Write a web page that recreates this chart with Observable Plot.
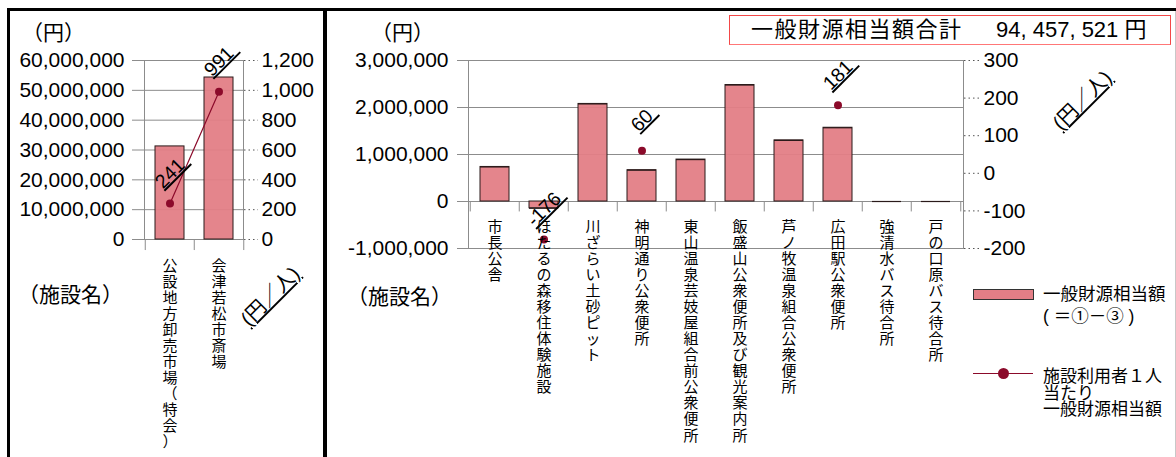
<!DOCTYPE html>
<html lang="ja">
<head>
<meta charset="utf-8">
<script src="https://cdn.jsdelivr.net/npm/d3@7"></script>
<script src="https://cdn.jsdelivr.net/npm/@observablehq/plot@0.6"></script>
<style>
  html, body { margin: 0; padding: 0; background: #fff; }
  #wrap { position: relative; width: 1176px; height: 457px; overflow: hidden; background: #fff;
          font-family: "Liberation Sans", Arial, "Noto Sans CJK JP", sans-serif; color: #000; }
  #wrap svg { position: absolute; top: 0; overflow: visible; }
  g[aria-description="datalabel"] text { text-decoration: underline; text-underline-offset: 3px; }
  .abs { position: absolute; white-space: nowrap; line-height: 1; }
  .rot { transform: translate(-50%, -50%) rotate(-45deg); text-decoration: underline; text-underline-offset: 2px; }
</style>
</head>
<body>
<div id="wrap"></div>
<script>
// ---------- data ----------
const leftCats = ["公設地方卸売市場（特会）", "会津若松市斎場"];
const leftAmounts = [31200000, 54300000];
const leftPerUser = [241, 991];
const leftTicks = [0, 10000000, 20000000, 30000000, 40000000, 50000000, 60000000];
const leftTicks2 = [0, 200, 400, 600, 800, 1000, 1200];

const rightCats = ["市長公舎", "ほたるの森移住体験施設", "川ざらい土砂ピット", "神明通り公衆便所",
  "東山温泉芸妓屋組合前公衆便所", "飯盛山公衆便所及び観光案内所", "芦ノ牧温泉組合公衆便所",
  "広田駅公衆便所", "強清水バス待合所", "戸の口原バス待合所"];
const rightAmounts = [735000, -144000, 2076000, 666000, 892000, 2478000, 1300000, 1569000, 0, 0];
const rightPerUser = [null, -176, null, 60, null, null, null, 181, null, null];
const rightTicks = [-1000000, 0, 1000000, 2000000, 3000000];
const rightTicks2 = [-200, -100, 0, 100, 200, 300];

const totalLabel = "一般財源相当額合計";
const totalValue = "94, 457, 521 円";
const legendBar = ["一般財源相当額", "( ＝①－③ )"];
const legendDot = ["施設利用者１人", "当たり", "一般財源相当額"];

// ---------- style ----------
const FONT = '"Liberation Sans", Arial, "Noto Sans CJK JP", sans-serif';
const BAR_FILL = "#e37e86";
const BAR_STROKE = "#2a1a1a";
const DOT = "#8b0a2a";
const GRID = "#8c8c8c";
const fmt = d => Math.round(d).toLocaleString("en-US");
const vert = s => Array.from(s).join("\n");

const wrap = document.getElementById("wrap");

// ---------- left panel ----------
const kL = 60000000 / 1200;
const leftData = leftCats.map((name, i) => ({name, amount: leftAmounts[i], perUser: leftPerUser[i]}));
const stepL = 99 / leftCats.length;
const leftPlot = Plot.plot({
  width: 325, height: 457,
  marginLeft: 144, marginRight: 82, marginTop: 60, marginBottom: 218,
  style: {fontFamily: FONT, fontSize: "21px", background: "transparent", overflow: "visible"},
  x: {domain: leftCats, paddingInner: 0.414, paddingOuter: 0.207, axis: null},
  y: {domain: [0, 60000000], label: null},
  marks: [
    Plot.ruleY(leftTicks, {stroke: GRID}),
    Plot.frame({stroke: GRID}),
    Plot.axisY(leftTicks, {anchor: "left", tickSize: 12, tickPadding: 8, stroke: GRID, fill: "#000",
      tickFormat: fmt, fontSize: 21, label: null}),
    Plot.axisY(leftTicks2.map(v => v * kL), {anchor: "right", tickSize: 14, tickPadding: 4, stroke: "#555",
      strokeDasharray: "1.5,3", fill: "#000", tickFormat: d => fmt(d / kL), fontSize: 21, label: null}),
    Plot.ruleX(leftCats, {x: d => d, y1: 0, y2: -3700000, dx: -stepL / 2, stroke: GRID}),
    Plot.ruleX(leftCats.slice(-1), {x: d => d, y1: 0, y2: -3700000, dx: stepL / 2, stroke: GRID}),
    Plot.barY(leftData, {x: "name", y: "amount", fill: BAR_FILL, fillOpacity: 0.95, stroke: BAR_STROKE, strokeWidth: 1}),
    Plot.line(leftData, {x: "name", y: d => d.perUser * kL, stroke: DOT, strokeWidth: 1.2}),
    Plot.dot(leftData, {x: "name", y: d => d.perUser * kL, r: 4, fill: DOT}),
    Plot.text(leftData, {x: "name", y: d => d.perUser * kL, text: d => String(d.perUser) + "\u00a0",
      rotate: -45, dy: -32, dx: 2, fontSize: 19.5, ariaDescription: "datalabel"}),
    Plot.text(leftCats, {x: d => d, y: d => 0, text: d => vert(d), lineAnchor: "top", dy: 20,
      fontSize: 15, lineHeight: 1.07})
  ]
});
leftPlot.style.left = "0px";
wrap.appendChild(leftPlot);

// ---------- right panel ----------
const toR = v => v * 8000 + 600000;
const fromR = d => (d - 600000) / 8000;
const rightData = rightCats.map((name, i) => ({name, amount: rightAmounts[i], perUser: rightPerUser[i]}));
const rightPts = rightData.filter(d => d.perUser !== null);
const stepR = 495 / rightCats.length;
const rightPlot = Plot.plot({
  width: 851, height: 457,
  marginLeft: 143, marginRight: 213, marginTop: 60, marginBottom: 209,
  style: {fontFamily: FONT, fontSize: "21px", background: "transparent", overflow: "visible"},
  x: {domain: rightCats, paddingInner: 0.40, paddingOuter: 0.20, axis: null},
  y: {domain: [-1000000, 3000000], label: null},
  marks: [
    Plot.ruleY(rightTicks, {stroke: GRID}),
    Plot.frame({stroke: GRID}),
    Plot.axisY(rightTicks, {anchor: "left", tickSize: 11, tickPadding: 9, stroke: GRID, fill: "#000",
      tickFormat: fmt, fontSize: 21, label: null}),
    Plot.axisY(rightTicks2.map(toR), {anchor: "right", tickSize: 16, tickPadding: 4, stroke: "#555",
      strokeDasharray: "1.5,3", fill: "#000", tickFormat: d => fmt(fromR(d)), fontSize: 21, label: null}),
    Plot.ruleX(rightCats, {x: d => d, y1: 0, y2: -222000, dx: -stepR / 2, stroke: GRID}),
    Plot.ruleX(rightCats.slice(-1), {x: d => d, y1: 0, y2: -222000, dx: stepR / 2, stroke: GRID}),
    Plot.barY(rightData, {x: "name", y: "amount", fill: BAR_FILL, fillOpacity: 0.95, stroke: BAR_STROKE, strokeWidth: 1}),
    Plot.tickY(rightData, {x: "name", y: "amount", stroke: BAR_STROKE, strokeWidth: 1.2}),
    Plot.dot(rightPts, {x: "name", y: d => toR(d.perUser), r: 4, fill: DOT}),
    Plot.text(rightPts, {x: "name", y: d => toR(d.perUser), text: d => String(d.perUser) + "\u00a0",
      rotate: -45, dy: -32, dx: 2, fontSize: 19.5, ariaDescription: "datalabel"}),
    Plot.text(rightCats, {x: d => d, y: d => 0, text: d => vert(d), lineAnchor: "top", dy: 19,
      fontSize: 15, lineHeight: 1.07})
  ]
});
rightPlot.style.left = "325px";
wrap.appendChild(rightPlot);

// ---------- annotations ----------
function addText(txt, x, y, size, extra = {}) {
  const el = document.createElement("div");
  el.className = "abs" + (extra.cls ? " " + extra.cls : "");
  el.textContent = txt;
  el.style.left = x + "px";
  el.style.top = y + "px";
  el.style.fontSize = size + "px";
  if (extra.style) Object.assign(el.style, extra.style);
  wrap.appendChild(el);
  return el;
}
function addBox(x, y, w, h, style) {
  const el = document.createElement("div");
  el.style.position = "absolute";
  el.style.left = x + "px"; el.style.top = y + "px";
  el.style.width = w + "px"; el.style.height = h + "px";
  Object.assign(el.style, style);
  wrap.appendChild(el);
  return el;
}

addText("（円）", 22, 22, 21);
addText("（円）", 371, 22, 21);
addText("（施設名）", 18, 284, 21);
addText("（施設名）", 347, 286, 21);
addText("(円／人)", 270, 296, 20, {cls: "rot"});
addText("(円／人)", 1082, 100, 20, {cls: "rot"});

// total box
addBox(729, 15, 440, 28, {border: "1.5px solid #f34848", borderBottomColor: "#f77", background: "transparent"});
addText(totalLabel, 751, 19, 22, {style: {letterSpacing: "1.5px"}});
addText(totalValue, 996, 19, 22, {style: {letterSpacing: "0px"}});

// legend
addBox(973, 289, 59, 9, {background: BAR_FILL, border: "1px solid #333"});
addText(legendBar[0], 1043, 286, 17.5);
addText(legendBar[1], 1043, 308, 17.5);
addBox(973, 372.5, 60, 1.5, {background: DOT});
addBox(997.5, 367.5, 11, 11, {background: DOT, borderRadius: "50%"});
const dotLegend = addText(legendDot.join("\n"), 1043, 369, 17, {style: {whiteSpace: "pre", lineHeight: "16.5px"}});

// panel borders
addBox(7, 8, 1169, 3, {background: "#000"});
addBox(7, 8, 3, 449, {background: "#000"});
addBox(322.5, 8, 4, 449, {background: "#000"});
addBox(1175, 11, 1, 446, {background: "#c8c8c8"});
</script>
</body>
</html>
